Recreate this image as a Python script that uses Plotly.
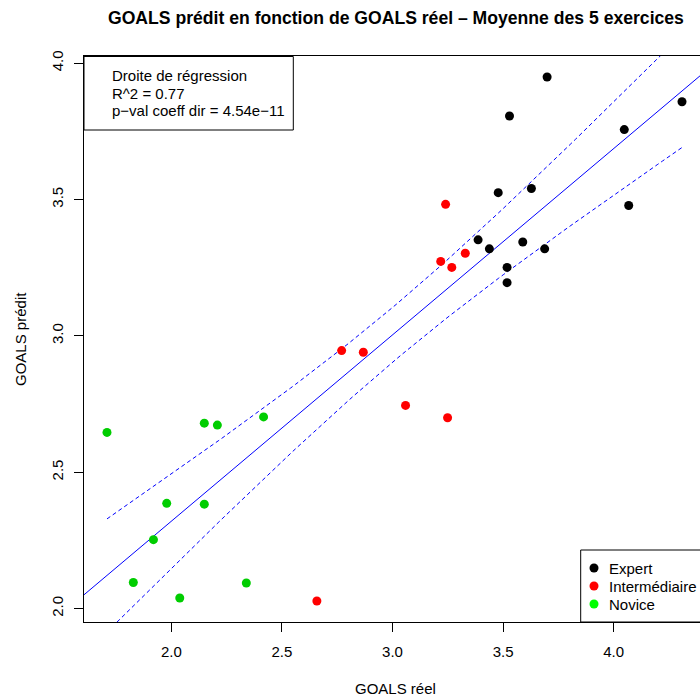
import numpy as np
import plotly.graph_objects as go

# ---- data ----
expert_x = [3.699, 3.529, 4.309, 4.048, 3.628, 3.478, 4.068, 3.387, 3.589, 3.438, 3.688, 3.518, 3.518]
expert_y = [3.949, 3.806, 3.858, 3.756, 3.540, 3.525, 3.478, 3.352, 3.344, 3.319, 3.319, 3.251, 3.195]
inter_x = [3.240, 3.329, 3.218, 3.268, 2.770, 2.868, 2.658, 3.059, 3.249]
inter_y = [3.482, 3.303, 3.273, 3.251, 2.946, 2.940, 2.028, 2.745, 2.700]
novice_x = [1.709, 2.149, 2.208, 2.417, 1.979, 2.149, 1.919, 1.828, 2.339, 2.038]
novice_y = [2.646, 2.680, 2.673, 2.703, 2.386, 2.383, 2.253, 2.096, 2.094, 2.039]

groups = ["Expert", "Intermédiaire", "Novice"]
point_colors = ["#000000", "#FF0000", "#00CD00"]
legend_colors = ["#000000", "#FF0000", "#00FF00"]
x_ticks = [2.0, 2.5, 3.0, 3.5, 4.0]
y_ticks = [2.0, 2.5, 3.0, 3.5, 4.0]
box_lines = ["Droite de régression", "R^2 = 0.77", "p\u2212val coeff dir = 4.54e\u221211"]
title = "GOALS prédit en fonction de GOALS réel \u2013 Moyenne des 5 exercices"
t_crit = 2.042  # Student t, 0.975, df = 30

# ---- regression (from data) ----
allx = np.array(expert_x + inter_x + novice_x)
ally = np.array(expert_y + inter_y + novice_y)
n = len(allx)
b, a = np.polyfit(allx, ally, 1)
res = ally - (a + b * allx)
s = np.sqrt(np.sum(res ** 2) / (n - 2))
xbar = allx.mean()
sxx = np.sum((allx - xbar) ** 2)
xg = np.linspace(allx.min(), allx.max(), 120)
fit_g = a + b * xg
half = t_crit * s * np.sqrt(1.0 / n + (xg - xbar) ** 2 / sxx)

# ---- layout geometry (window pixels; body margin removed below) ----
OFF = 0
WIN_W, WIN_H = 700, 697
L, T, BOT = 84, 56, 622  # plot region in window pixels
R_full = 705  # right edge of original plot region (cropped at 700)
W, H = WIN_W - OFF, WIN_H - OFF
plot_w = WIN_W - L
plot_h = BOT - T

dx = 0.04 * (allx.max() - allx.min())
x0 = allx.min() - dx
x1_full = allx.max() + dx
x1 = x0 + (x1_full - x0) * plot_w / (R_full - L)
dy = 0.04 * (ally.max() - ally.min())
yr = [ally.min() - dy, ally.max() + dy]


def px(x):
    return (x - L) / plot_w


def py(y):
    return (BOT - y) / plot_h


FONT = "Liberation Sans, Arial, Helvetica, sans-serif"
fig = go.Figure()

fig.add_trace(go.Scatter(x=[x0, x1], y=[a + b * x0, a + b * x1], mode="lines",
                         line=dict(color="#0000FF", width=1), showlegend=False, hoverinfo="skip"))
fig.add_trace(go.Scatter(x=xg, y=fit_g + half, mode="lines",
                         line=dict(color="#0000FF", width=1, dash="4px,3px"), showlegend=False, hoverinfo="skip"))
fig.add_trace(go.Scatter(x=xg, y=fit_g - half, mode="lines",
                         line=dict(color="#0000FF", width=1, dash="4px,3px"), showlegend=False, hoverinfo="skip"))

for gx, gy, name, col in [(expert_x, expert_y, groups[0], point_colors[0]),
                          (inter_x, inter_y, groups[1], point_colors[1]),
                          (novice_x, novice_y, groups[2], point_colors[2])]:
    fig.add_trace(go.Scatter(x=gx, y=gy, mode="markers", name=name,
                             marker=dict(color=col, size=9, line=dict(width=0)),
                             showlegend=False))

shapes = []
annotations = []
shapes.append(dict(type="rect", xref="paper", yref="paper",
                   x0=px(84), x1=px(293.3), y0=py(130), y1=py(56.5),
                   line=dict(color="#000000", width=1), fillcolor="rgba(0,0,0,0)"))
for i, txt in enumerate(box_lines):
    annotations.append(dict(xref="paper", yref="paper", x=px(109.5), y=py(75.5 + 17.5 * i),
                            text=txt, showarrow=False, xanchor="left", yanchor="middle",
                            font=dict(family=FONT, size=15, color="#000000")))

shapes.append(dict(type="rect", xref="paper", yref="paper",
                   x0=px(580.7), x1=px(712), y0=py(622), y1=py(550),
                   line=dict(color="#000000", width=1), fillcolor="white"))
for i, (g, c) in enumerate(zip(groups, legend_colors)):
    cy = 568 + 18 * i
    shapes.append(dict(type="circle", xref="paper", yref="paper",
                       x0=px(594 - 4.5), x1=px(594 + 4.5), y0=py(cy + 4.5), y1=py(cy - 4.5),
                       line=dict(width=0), fillcolor=c))
    annotations.append(dict(xref="paper", yref="paper", x=px(606.5), y=py(cy),
                            text=g, showarrow=False, xanchor="left", yanchor="middle",
                            font=dict(family=FONT, size=15, color="#000000")))

annotations.append(dict(xref="paper", yref="paper", x=px(395.5), y=py(18.5),
                        text="<b>" + title + "</b>", showarrow=False, xanchor="center", yanchor="middle",
                        font=dict(family=FONT, size=17.6, color="#000000")))
annotations.append(dict(xref="paper", yref="paper", x=px(395.5), y=py(688),
                        text="GOALS réel", showarrow=False, xanchor="center", yanchor="middle",
                        font=dict(family=FONT, size=15, color="#000000")))
annotations.append(dict(xref="paper", yref="paper", x=px(20), y=py(339),
                        text="GOALS prédit", showarrow=False, xanchor="center", yanchor="middle",
                        textangle=-90, font=dict(family=FONT, size=15, color="#000000")))

fig.update_layout(
    width=W, height=H, autosize=False,
    margin=dict(l=L - OFF, r=0, t=T - OFF, b=WIN_H - BOT, pad=0),
    paper_bgcolor="white", plot_bgcolor="white",
    showlegend=False,
    shapes=shapes, annotations=annotations,
    font=dict(family=FONT, size=15, color="#000000"),
    xaxis=dict(range=[x0, x1], tickvals=x_ticks, ticktext=[f"{v:.1f}" for v in x_ticks],
               showgrid=False, zeroline=False, showline=True, linecolor="#000000", linewidth=1,
               mirror=True, ticks="outside", ticklen=9, tickcolor="#000000", tickwidth=1,
               ticklabelstandoff=7,
               tickfont=dict(family=FONT, size=15, color="#000000")),
    yaxis=dict(range=yr, tickvals=y_ticks, ticktext=[f"{v:.1f}" for v in y_ticks],
               showgrid=False, zeroline=False, showline=True, linecolor="#000000", linewidth=1,
               mirror=False, ticks="outside", ticklen=9, tickcolor="#000000", tickwidth=1,
               tickangle=-90, ticklabelstandoff=5,
               tickfont=dict(family=FONT, size=15, color="#000000")),
)

fig.write_html("out.html", config={"displayModeBar": False},
               post_script="document.body.style.margin='0px';"
                           "document.documentElement.style.overflow='hidden';")
